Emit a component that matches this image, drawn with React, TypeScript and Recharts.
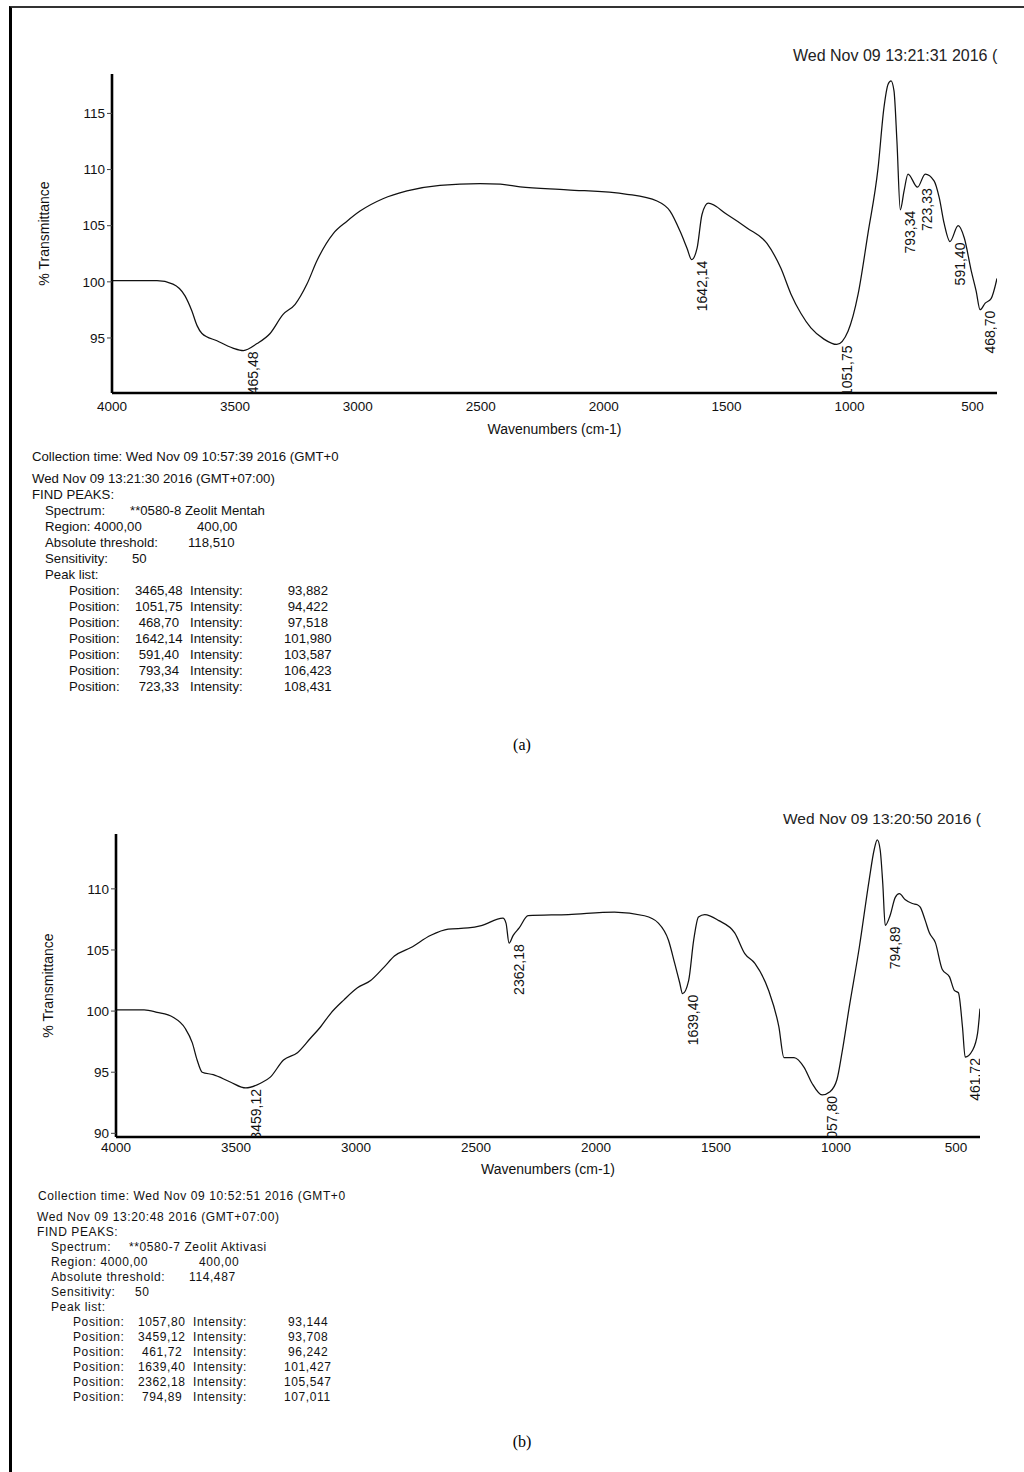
import React from 'react';
import { ComposedChart, Line, Scatter, XAxis, YAxis } from 'recharts';

const FONT = '"Liberation Sans", Arial, Helvetica, sans-serif';
const SERIF = '"Liberation Serif", "Times New Roman", serif';

// axes
const xDomain = [400, 4000];
const xTicks = [4000, 3500, 3000, 2500, 2000, 1500, 1000, 500];
const yTicksA = [95, 100, 105, 110, 115];
const yTicksB = [90, 95, 100, 105, 110];
const thresholdA = 118.51;
const thresholdB = 114.487;

// (a) Zeolit Mentah spectrum
const waveA = [
  4000, 3915, 3817, 3752, 3703, 3675, 3654, 3634, 3573, 3508, 3465.48, 3410, 3357, 3304, 3255,
  3207, 3166, 3100, 3044, 2991, 2898, 2800, 2666, 2503, 2420, 2340, 2149, 1905, 1783, 1730,
  1689, 1661, 1642.14, 1620, 1600, 1575, 1498, 1417, 1335, 1279, 1238, 1198, 1157, 1104,
  1051.75, 1006, 965, 925, 884, 860, 843, 831, 819, 807, 793.34, 778, 762, 723.33, 692, 656,
  635, 615, 591.4, 558, 533, 505, 485, 468.7, 448, 424, 400,
];
const transA = [
  100.1, 100.1, 100.1, 99.8, 98.75, 97.4, 96.1, 95.4, 94.75, 94.1, 93.88, 94.5, 95.4, 97.1, 98.0,
  99.8, 101.9, 104.3, 105.4, 106.3, 107.4, 108.1, 108.6, 108.75, 108.7, 108.45, 108.2, 107.8, 107.2, 106.3,
  104.5, 103.0, 101.98, 103.0, 106.0, 107.0, 106.0, 104.8, 103.4, 101.2, 98.9, 97.2, 95.9, 94.9,
  94.42, 95.6, 98.9, 104.3, 110.1, 115.5, 117.6, 117.9, 117.0, 112.5, 106.42, 108.1, 109.6, 108.43, 109.6, 109.0,
  107.5, 105.2, 103.59, 105.0, 103.9, 101.0, 99.2, 97.52, 98.1, 98.5, 100.3,
];
const peakPosA = [3465.48, 1051.75, 468.7, 1642.14, 591.4, 793.34, 723.33];
const peakIntA = [93.882, 94.422, 97.518, 101.98, 103.587, 106.423, 108.431];

// (b) Zeolit Aktivasi spectrum
const waveB = [
  4000, 3883, 3829, 3762, 3712, 3682, 3662, 3641, 3595, 3524, 3459.12, 3398, 3357, 3302, 3244,
  3189, 3148, 3106, 3051, 2994, 2939, 2883, 2840, 2771, 2688, 2616, 2533, 2478, 2388, 2375,
  2362.18, 2345, 2320, 2283, 2115, 1923, 1798, 1740, 1698, 1672, 1651, 1639.4, 1614, 1593, 1573,
  1547, 1488, 1422, 1380, 1338, 1281, 1238, 1217, 1175, 1133, 1100, 1057.8, 1025, 996, 975,
  945, 903, 862, 841, 828, 816, 805, 794.89, 775, 753, 736, 711, 682, 661, 649,
  628, 611, 586, 557, 527, 507, 490, 473, 461.72, 431, 410, 400,
];
const transB = [
  100.1, 100.1, 99.9, 99.5, 98.6, 97.4, 96.0, 95.0, 94.8, 94.2, 93.71, 94.1, 94.6, 96.0, 96.6,
  97.8, 98.7, 99.8, 100.9, 101.9, 102.5, 103.6, 104.5, 105.2, 106.2, 106.7, 106.8, 107.0, 107.6, 107.2,
  105.55, 106.2, 106.8, 107.8, 107.9, 108.1, 107.8, 107.2, 105.8, 103.9, 102.3, 101.43, 102.5, 105.8, 107.7,
  107.9, 107.4, 106.4, 104.7, 103.9, 101.7, 98.7, 96.2, 96.2, 95.4, 94.1, 93.14, 93.4, 94.4, 96.6,
  100.3, 105.2, 110.7, 113.2, 114.0, 113.2, 110.4, 107.01, 107.8, 109.3, 109.6, 109.1, 108.8, 108.7, 108.5,
  107.4, 106.4, 105.6, 103.4, 102.8, 101.7, 101.5, 98.7, 96.24, 96.8, 98.2, 100.2,
];
const peakPosB = [1057.8, 3459.12, 461.72, 1639.4, 2362.18, 794.89];
const peakIntB = [93.144, 93.708, 96.242, 101.427, 105.547, 107.011];

const fmt = (v: number, d: number) => v.toFixed(d).replace('.', ',');
const rows = (w: number[], t: number[]) => w.map((wn, i) => ({ wn, t: t[i] }));

const PeakLabel = (props: any) => {
  const { cx, cy, payload } = props;
  if (cx == null || cy == null) return null;
  const x = cx + 15;
  const y = cy + 1;
  return (
    <text x={x} y={y} transform={`rotate(-90 ${x} ${y})`} textAnchor="end"
      fontSize={14} fill="#111" fontFamily={FONT}>
      {fmt(payload.wn, 2)}
    </text>
  );
};

const yTitle = (props: any) => {
  const vb = props.viewBox || {};
  const x = vb.x - 8;
  const y = vb.y + vb.height / 2;
  return (
    <text x={x} y={y} transform={`rotate(-90 ${x} ${y})`} textAnchor="middle"
      dominantBaseline="central" fontSize={14} fill="#111" fontFamily={FONT}>
      % Transmittance
    </text>
  );
};

const xTitle = (props: any) => {
  const vb = props.viewBox || {};
  return (
    <text x={vb.x + vb.width / 2} y={vb.y + vb.height} textAnchor="middle"
      fontSize={14} fill="#111" fontFamily={FONT}>
      Wavenumbers (cm-1)
    </text>
  );
};

const Spectrum = ({ data, peaks, yDomain, yTicks, width, height, margin, xAxisHeight, xTickSize }: any) => (
  <ComposedChart width={width} height={height} margin={margin} style={{ fontFamily: FONT }}>
    <XAxis type="number" dataKey="wn" domain={xDomain} reversed ticks={xTicks} allowDataOverflow
      height={xAxisHeight} tickLine={false} tickSize={xTickSize} tickMargin={2}
      axisLine={{ stroke: '#000', strokeWidth: 2.6 }}
      tick={{ fontSize: 13.5, fill: '#111' }} label={xTitle} />
    <YAxis type="number" dataKey="t" domain={yDomain} ticks={yTicks} allowDataOverflow width={60}
      tickSize={5} tickMargin={2} tickLine={{ stroke: '#444' }}
      axisLine={{ stroke: '#000', strokeWidth: 2.6 }}
      tick={{ fontSize: 13.5, fill: '#111' }} label={yTitle} />
    <Line data={data} dataKey="t" type="monotone" dot={false} activeDot={false}
      stroke="#111" strokeWidth={1.25} isAnimationActive={false} />
    <Scatter data={peaks} dataKey="t" shape={PeakLabel} isAnimationActive={false} />
  </ComposedChart>
);

type Cell = [number, string];

const TextBlock = ({ top, lines, firstGap, lineH, fontSize, spacing }: any) => (
  <div style={{ position: 'absolute', left: 0, top, width: 600, fontFamily: FONT, fontSize,
    letterSpacing: spacing, color: '#111', lineHeight: `${lineH}px` }}>
    {lines.map((cells: Cell[], i: number) => (
      <div key={i} style={{ position: 'relative', height: i === 0 ? firstGap : lineH }}>
        {cells.map(([left, text], j) => (
          <span key={j} style={{ position: 'absolute', left, top: 0, whiteSpace: 'pre' }}>
            {text}
          </span>
        ))}
      </div>
    ))}
  </div>
);

const peakRows = (pos: number[], inten: number[], c: number[]) =>
  pos.map((p, i) => [
    [c[0], 'Position:'],
    [c[1], (p < 1000 ? ' ' : '') + fmt(p, 2)],
    [c[2], 'Intensity:'],
    [c[3], (inten[i] < 100 ? ' ' : '') + fmt(inten[i], 3)],
  ] as Cell[]);

const linesA: Cell[][] = [
  [[32, 'Collection time: Wed Nov 09 10:57:39 2016 (GMT+0']],
  [[32, 'Wed Nov 09 13:21:30 2016 (GMT+07:00)']],
  [[32, 'FIND PEAKS:']],
  [[45, 'Spectrum:'], [130, '**0580-8 Zeolit Mentah']],
  [[45, 'Region: ' + fmt(xDomain[1], 2)], [197, fmt(xDomain[0], 2)]],
  [[45, 'Absolute threshold:'], [188, fmt(thresholdA, 3)]],
  [[45, 'Sensitivity:'], [132, '50']],
  [[45, 'Peak list:']],
  ...peakRows(peakPosA, peakIntA, [69, 135, 190, 284]),
];

const linesB: Cell[][] = [
  [[38, 'Collection time: Wed Nov 09 10:52:51 2016 (GMT+0']],
  [[37, 'Wed Nov 09 13:20:48 2016 (GMT+07:00)']],
  [[37, 'FIND PEAKS:']],
  [[51, 'Spectrum:'], [129, '**0580-7 Zeolit Aktivasi']],
  [[51, 'Region: ' + fmt(xDomain[1], 2)], [199, fmt(xDomain[0], 2)]],
  [[51, 'Absolute threshold:'], [189, fmt(thresholdB, 3)]],
  [[51, 'Sensitivity:'], [135, '50']],
  [[51, 'Peak list:']],
  ...peakRows(peakPosB, peakIntB, [73, 138, 193, 284]),
];

const Stamp = ({ left, top, size, text }: any) => (
  <div style={{ position: 'absolute', left, top, whiteSpace: 'nowrap', fontFamily: FONT,
    fontSize: size, lineHeight: `${size}px`, color: '#222' }}>
    {text}
  </div>
);

export default function App() {
  const dataA = rows(waveA, transA);
  const dataB = rows(waveB, transB);
  const peaksA = rows(peakPosA, peakIntA);
  const peaksB = rows(peakPosB, peakIntB);
  return (
    <div style={{ position: 'absolute', left: 0, top: 0, width: 1024, height: 1472,
      overflow: 'hidden', background: '#fff' }}>
      <div style={{ position: 'absolute', left: 9, top: 6, width: 1100, height: 1500,
        borderTop: '2px solid #333', borderLeft: '3px solid #000' }} />

      <Stamp left={793} top={48} size={16} text="Wed Nov 09 13:21:31 2016 (" />
      <div style={{ position: 'absolute', left: 0, top: 0 }}>
        <Spectrum data={dataA} peaks={peaksA} yDomain={[90.1, thresholdA]} yTicks={yTicksA}
          width={1003} height={445} margin={{ top: 74, right: 6, bottom: 11, left: 52 }}
          xAxisHeight={41} xTickSize={6} />
      </div>
      <TextBlock top={449} lines={linesA} firstGap={22} lineH={16} fontSize={13.2} spacing={0} />
      <div style={{ position: 'absolute', left: 502, top: 736, width: 40, textAlign: 'center',
        fontFamily: SERIF, fontSize: 16, lineHeight: '18px' }}>(a)</div>

      <Stamp left={783} top={811} size={15.5} text="Wed Nov 09 13:20:50 2016 (" />
      <div style={{ position: 'absolute', left: 0, top: 780 }}>
        <Spectrum data={dataB} peaks={peaksB} yDomain={[89.7, thresholdB]} yTicks={yTicksB}
          width={990} height={400} margin={{ top: 54, right: 10, bottom: 6, left: 56 }}
          xAxisHeight={37} xTickSize={3} />
      </div>
      <TextBlock top={1189} lines={linesB} firstGap={21} lineH={15} fontSize={12} spacing={0.6} />
      <div style={{ position: 'absolute', left: 502, top: 1433, width: 40, textAlign: 'center',
        fontFamily: SERIF, fontSize: 16, lineHeight: '18px' }}>(b)</div>
    </div>
  );
}
